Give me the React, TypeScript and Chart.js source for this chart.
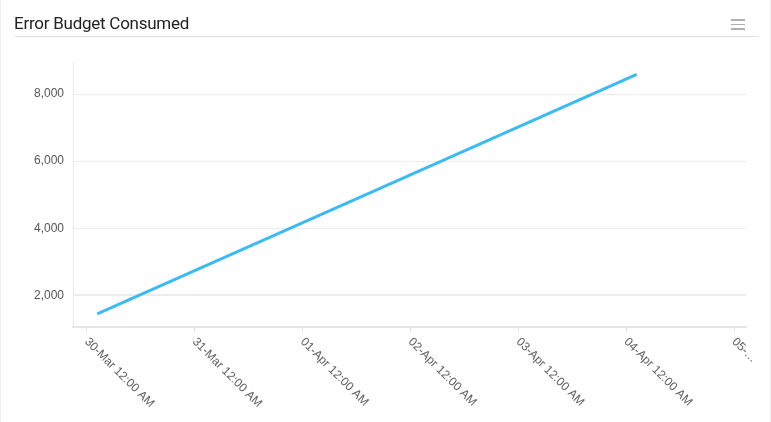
import React, { useEffect, useRef } from "react";
import { Chart, registerables } from "chart.js";

Chart.register(...registerables);

// Hours since 30-Mar 12:00 AM
const pointHours = [2.4, 122.4];
const errorBudgetValues = [1442, 8588];
const tickHours = [0, 24, 48, 72, 96, 120, 144];
const tickLabels = [
  "30-Mar 12:00 AM",
  "31-Mar 12:00 AM",
  "01-Apr 12:00 AM",
  "02-Apr 12:00 AM",
  "03-Apr 12:00 AM",
  "04-Apr 12:00 AM",
  "05-…",
];
const yTicks = [2000, 4000, 6000, 8000];
const xMin = -3;
const xMax = 146.7;
const yMin = 1054;
const yMax = 8955;

const W = 771;
const H = 422;
const AREA = { left: 72, right: 745, top: 62, bottom: 327 };

const rotatedLabels = {
  id: "rotatedLabels",
  afterDraw(chart: any) {
    const ctx = chart.ctx;
    const xs = chart.scales.x;
    const bottom = chart.chartArea.bottom;
    ctx.save();
    ctx.font = "12px 'Liberation Sans', Arial, sans-serif";
    ctx.fillStyle = "#606060";
    ctx.textAlign = "left";
    ctx.textBaseline = "middle";
    tickHours.forEach((h, i) => {
      const px = xs.getPixelForValue(h);
      ctx.strokeStyle = "#e0e0e0";
      ctx.lineWidth = 1;
      ctx.beginPath();
      ctx.moveTo(Math.round(px) + 0.5, bottom);
      ctx.lineTo(Math.round(px) + 0.5, bottom + 5);
      ctx.stroke();
      ctx.save();
      ctx.translate(px, bottom + 13);
      ctx.rotate(Math.PI / 4);
      ctx.fillText(tickLabels[i], 0, 0);
      ctx.restore();
    });
    ctx.restore();
  },
};

export default function App() {
  const ref = useRef<HTMLCanvasElement>(null);
  useEffect(() => {
    document.body.style.margin = "0";
    const data = pointHours.map((h, i) => ({ x: h, y: errorBudgetValues[i] }));
    const chart = new Chart(ref.current as HTMLCanvasElement, {
      type: "line",
      data: {
        datasets: [
          {
            label: "Error Budget Consumed",
            data,
            borderColor: "#3dbaf0",
            backgroundColor: "#3dbaf0",
            borderWidth: 3,
            pointRadius: 0,
            tension: 0,
          },
        ],
      },
      options: {
        animation: false,
        responsive: false,
        maintainAspectRatio: false,
        layout: { padding: { top: AREA.top, right: W - AREA.right, left: 0, bottom: 0 } },
        plugins: { legend: { display: false }, tooltip: { enabled: false }, title: { display: false } },
        scales: {
          x: {
            type: "linear",
            min: xMin,
            max: xMax,
            afterFit: (s: any) => {
              s.height = H - AREA.bottom;
            },
            afterBuildTicks: (s: any) => {
              s.ticks = tickHours.map((v) => ({ value: v }));
            },
            ticks: { display: false },
            grid: { display: false, drawTicks: false },
            border: { display: true, color: "#e6e6e6", width: 2 },
          },
          y: {
            type: "linear",
            min: yMin,
            max: yMax,
            afterFit: (s: any) => {
              s.width = AREA.left;
            },
            afterBuildTicks: (s: any) => {
              s.ticks = yTicks.map((v) => ({ value: v }));
            },
            ticks: {
              color: "#555555",
              padding: 9,
              font: { family: "'Liberation Sans', Arial, sans-serif", size: 12 },
              callback: (v: any) => Number(v).toLocaleString("en-US"),
            },
            grid: {
              drawTicks: false,
              color: "#ececec",
              lineWidth: (c: any) => (c.tick && c.tick.value === 2000 ? 2 : 1),
            },
            border: { display: true, color: "#e6e6e6", width: 1 },
          },
        },
      },
      plugins: [rotatedLabels],
    });
    return () => chart.destroy();
  }, []);

  return (
    <div
      style={{
        position: "fixed",
        left: 0,
        top: 0,
        width: W,
        height: H,
        background: "#fff",
        boxSizing: "border-box",
        borderLeft: "1px solid #f0f0f0",
        borderRight: "1px solid #f0f0f0",
      }}
    >
      <canvas ref={ref} width={W} height={H} style={{ position: "absolute", left: 0, top: 0, width: W, height: H }} />
      <div
        style={{
          position: "absolute",
          left: 13,
          top: 13,
          fontFamily: "Roboto, sans-serif",
          fontSize: 17,
          color: "#222",
          letterSpacing: -0.25,
          lineHeight: "20px",
        }}
      >
        Error Budget Consumed
      </div>
      <div style={{ position: "absolute", left: 14, top: 36, width: 743, height: 1, background: "#dedede" }} />
      {[19, 23.5, 28].map((t) => (
        <div key={t} style={{ position: "absolute", left: 730, top: t, width: 14, height: 1.5, background: "#b0b0b0" }} />
      ))}
    </div>
  );
}
